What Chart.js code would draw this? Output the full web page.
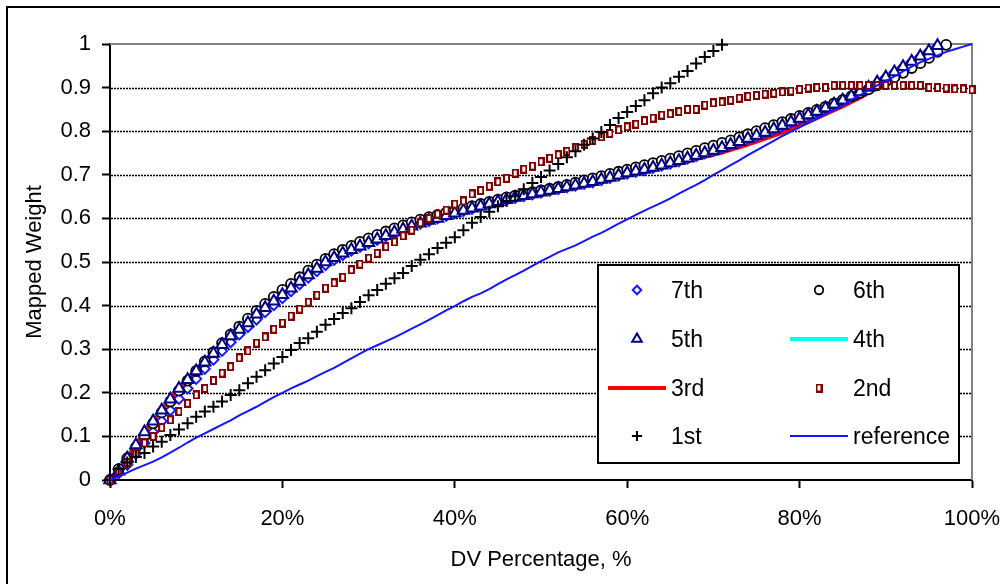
<!DOCTYPE html>
<html>
<head>
<meta charset="utf-8">
<script src="https://cdn.jsdelivr.net/npm/chart.js@4.4.1/dist/chart.umd.min.js"></script>
<style>
  html, body { margin: 0; padding: 0; background: #fff; }
  #wrap { width: 1000px; height: 584px; }
</style>
</head>
<body>
<div id="wrap"><canvas id="chart" width="1000" height="584"></canvas></div>
<script>
// DV percentage (x), one sample per percent
const pct = [0,1,2,3,4,5,6,7,8,9,10,11,12,13,14,15,16,17,18,19,20,21,22,23,24,25,26,27,28,29,30,
  31,32,33,34,35,36,37,38,39,40,41,42,43,44,45,46,47,48,49,50,51,52,53,54,55,56,57,58,59,60,
  61,62,63,64,65,66,67,68,69,70,71,72,73,74,75,76,77,78,79,80,81,82,83,84,85,86,87,88,89,90,
  91,92,93,94,95,96,97,98,99,100];

const xTicks = [0, 20, 40, 60, 80, 100];
const yTicks = [0, 0.1, 0.2, 0.3, 0.4, 0.5, 0.6, 0.7, 0.8, 0.9, 1];

const w7th = [0,0.015,0.035,0.06,0.085,0.11,0.135,0.16,0.186,0.21,0.232,0.255,0.276,0.296,0.316,0.334,
  0.351,0.368,0.385,0.401,0.417,0.433,0.449,0.464,0.479,0.493,0.505,0.516,0.526,0.535,0.543,0.551,0.559,
  0.567,0.574,0.581,0.588,0.594,0.6,0.606,0.612,0.617,0.622,0.627,0.632,0.637,0.642,0.647,0.651,0.655,
  0.659,0.663,0.667,0.671,0.675,0.679,0.683,0.688,0.693,0.698,0.703,0.707,0.711,0.716,0.721,0.726,0.731,
  0.737,0.743,0.749,0.755,0.761,0.768,0.775,0.782,0.789,0.796,0.804,0.812,0.82,0.828,0.836,0.844,0.852,
  0.861,0.87,0.879,0.889,0.899,0.911,0.923,0.935,0.947,0.959,0.971,0.983,0.995];

const w6th = [0,0.025,0.05,0.075,0.1,0.13,0.155,0.18,0.205,0.228,0.25,0.272,0.293,0.314,0.334,0.352,
  0.37,0.388,0.404,0.42,0.436,0.45,0.465,0.48,0.494,0.507,0.518,0.528,0.537,0.546,0.554,0.562,0.57,
  0.577,0.584,0.591,0.597,0.603,0.608,0.613,0.618,0.623,0.628,0.633,0.638,0.643,0.648,0.652,0.656,0.66,
  0.664,0.668,0.672,0.677,0.682,0.687,0.692,0.697,0.702,0.707,0.712,0.717,0.722,0.727,0.732,0.737,0.743,
  0.749,0.755,0.761,0.767,0.773,0.779,0.786,0.793,0.8,0.807,0.814,0.821,0.828,0.835,0.842,0.849,0.856,
  0.864,0.872,0.88,0.888,0.896,0.905,0.914,0.924,0.934,0.945,0.956,0.968,0.982,0.998];

const w5th = [0,0.02,0.05,0.08,0.11,0.135,0.16,0.185,0.21,0.23,0.25,0.27,0.29,0.31,0.33,0.345,0.36,
  0.38,0.395,0.41,0.425,0.44,0.455,0.47,0.485,0.5,0.51,0.52,0.528,0.536,0.544,0.552,0.56,0.568,0.575,
  0.582,0.589,0.595,0.6,0.606,0.612,0.618,0.623,0.628,0.633,0.638,0.643,0.648,0.652,0.656,0.66,0.664,
  0.668,0.672,0.676,0.68,0.684,0.689,0.694,0.699,0.704,0.708,0.712,0.717,0.722,0.727,0.732,0.738,0.744,
  0.75,0.756,0.762,0.769,0.776,0.783,0.79,0.797,0.805,0.813,0.821,0.829,0.837,0.845,0.853,0.862,0.871,
  0.88,0.89,0.9,0.912,0.924,0.936,0.948,0.96,0.972,0.984,0.996];

const w4th = [0,0.025,0.055,0.085,0.114,0.14,0.166,0.19,0.213,0.234,0.255,0.275,0.294,0.313,0.332,0.349,
  0.365,0.382,0.398,0.413,0.428,0.443,0.457,0.471,0.485,0.498,0.509,0.519,0.528,0.537,0.545,0.553,0.561,
  0.569,0.577,0.584,0.591,0.597,0.603,0.609,0.615,0.621,0.627,0.632,0.637,0.642,0.647,0.652,0.656,0.66,
  0.664,0.668,0.672,0.676,0.68,0.684,0.688,0.692,0.696,0.7,0.704,0.708,0.712,0.716,0.72,0.725,0.73,0.735,
  0.741,0.747,0.753,0.759,0.765,0.772,0.779,0.786,0.793,0.8,0.808,0.816,0.824,0.832,0.84,0.849,0.858,
  0.867,0.876,0.886,0.896,0.908,0.92,0.932,0.944,0.956,0.968,0.98,0.992];

const w3rd = [0,0.02,0.05,0.08,0.11,0.135,0.16,0.185,0.21,0.232,0.253,0.273,0.293,0.312,0.331,0.348,
  0.364,0.38,0.396,0.411,0.426,0.441,0.456,0.47,0.484,0.497,0.509,0.52,0.53,0.539,0.548,0.556,0.564,
  0.572,0.58,0.587,0.594,0.601,0.607,0.613,0.619,0.625,0.631,0.637,0.643,0.648,0.653,0.658,0.662,0.666,
  0.67,0.673,0.676,0.679,0.682,0.685,0.688,0.691,0.695,0.699,0.702,0.706,0.71,0.714,0.718,0.722,0.726,
  0.731,0.736,0.741,0.746,0.751,0.757,0.763,0.769,0.776,0.783,0.79,0.797,0.805,0.813,0.821,0.83,0.839,
  0.848,0.857,0.867,0.877,0.888,0.9,0.912,0.925,0.938,0.951,0.964,0.977,0.99];

const w2nd = [0,0.02,0.04,0.06,0.085,0.1,0.12,0.138,0.157,0.176,0.195,0.21,0.228,0.245,0.26,0.28,0.296,
  0.314,0.328,0.346,0.36,0.376,0.392,0.408,0.424,0.44,0.452,0.465,0.482,0.495,0.509,0.52,0.535,0.546,
  0.56,0.573,0.59,0.6,0.61,0.619,0.633,0.64,0.656,0.664,0.674,0.684,0.692,0.704,0.713,0.72,0.73,0.738,
  0.746,0.754,0.762,0.77,0.778,0.787,0.795,0.803,0.81,0.816,0.824,0.83,0.837,0.84,0.845,0.85,0.85,0.86,
  0.865,0.867,0.871,0.876,0.88,0.882,0.885,0.887,0.89,0.892,0.896,0.899,0.9,0.9,0.905,0.905,0.905,0.905,
  0.905,0.905,0.905,0.905,0.905,0.905,0.905,0.9,0.9,0.899,0.897,0.897,0.895];

const w1st = [0,0.025,0.04,0.053,0.062,0.077,0.088,0.103,0.116,0.13,0.145,0.157,0.168,0.18,0.195,0.206,
  0.222,0.237,0.252,0.267,0.282,0.298,0.314,0.325,0.34,0.356,0.369,0.383,0.394,0.408,0.424,0.436,0.45,
  0.463,0.475,0.491,0.505,0.518,0.532,0.544,0.557,0.573,0.59,0.603,0.615,0.628,0.64,0.651,0.667,0.681,
  0.695,0.71,0.725,0.74,0.754,0.769,0.783,0.798,0.814,0.83,0.844,0.858,0.871,0.887,0.9,0.91,0.925,0.938,
  0.955,0.97,0.984,0.998];

const wRef = [0,0.008,0.017,0.026,0.034,0.042,0.052,0.063,0.074,0.086,0.097,0.107,0.117,0.127,0.137,
  0.148,0.158,0.168,0.179,0.19,0.2,0.21,0.219,0.228,0.238,0.248,0.257,0.268,0.279,0.29,0.3,0.309,0.318,
  0.327,0.337,0.347,0.357,0.367,0.378,0.389,0.399,0.41,0.42,0.428,0.438,0.449,0.46,0.47,0.48,0.491,0.502,
  0.512,0.522,0.53,0.538,0.548,0.558,0.567,0.577,0.588,0.598,0.608,0.618,0.627,0.636,0.646,0.657,0.667,
  0.677,0.688,0.7,0.711,0.722,0.733,0.745,0.756,0.767,0.778,0.789,0.799,0.809,0.819,0.829,0.839,0.849,
  0.858,0.872,0.883,0.894,0.905,0.915,0.926,0.937,0.948,0.958,0.966,0.974,0.982,0.988,0.994,1];

const legendOrder = ['7th', '6th', '5th', '4th', '3rd', '2nd', '1st', 'reference'];

const FONT = '"Liberation Sans", Arial, sans-serif';

function pts(values) {
  return values.map((v, i) => ({ x: pct[i], y: v }));
}

// small upright hollow rectangle used by the 2nd series
function rectMarker() {
  const c = document.createElement('canvas');
  c.width = 7; c.height = 9;
  const g = c.getContext('2d');
  g.fillStyle = '#fff';
  g.fillRect(1, 1, 5, 7);
  g.strokeStyle = '#800000';
  g.lineWidth = 2;
  g.strokeRect(1, 1, 5, 7);
  return c;
}

const marker = (label, data, style, color, radius, bw) => ({
  label, data: pts(data), showLine: false, pointStyle: style,
  pointRadius: radius, pointBorderColor: color, pointBackgroundColor: '#fff',
  pointBorderWidth: bw, borderColor: color, backgroundColor: '#fff', clip: false
});
const line = (label, data, color, width) => ({
  label, data: pts(data), borderColor: color, borderWidth: width,
  pointRadius: 0, tension: 0, fill: false, clip: false
});

// first entry is drawn on top
const datasets = [
  line('reference', wRef, '#1515ff', 2),
  marker('1st', w1st, 'cross', '#000', 6, 2),
  marker('2nd', w2nd, rectMarker(), '#800000', 4, 2),
  marker('5th', w5th, 'triangle', '#000080', 6.5, 2),
  marker('6th', w6th, 'circle', '#000', 5, 1.8),
  marker('7th', w7th, 'rectRot', '#1a1aff', 5, 2),
  line('3rd', w3rd, '#ff0000', 4),
  line('4th', w4th, '#00ffff', 4)
];

const framePlugin = {
  id: 'frame',
  beforeDraw(chart) {
    const ctx = chart.ctx;
    ctx.save();
    ctx.strokeStyle = '#000';
    ctx.lineWidth = 2;
    ctx.strokeRect(7, 7, 1100, 700);
    ctx.restore();
  },
  beforeDatasetsDraw(chart) {
    const { ctx, chartArea: a, scales } = chart;
    ctx.save();
    ctx.strokeStyle = '#000';
    ctx.lineWidth = 1.5;
    ctx.setLineDash([2, 1]);
    yTicks.forEach(v => {
      if (v <= 0 || v >= 1) return;
      const y = Math.round(scales.y.getPixelForValue(v)) + 0.5;
      ctx.beginPath();
      ctx.moveTo(a.left + 1, y);
      ctx.lineTo(a.right, y);
      ctx.stroke();
    });
    ctx.setLineDash([]);
    ctx.strokeStyle = '#808080';
    ctx.lineWidth = 2;
    const yTop = scales.y.getPixelForValue(1);
    ctx.beginPath();
    ctx.moveTo(a.left, yTop);
    ctx.lineTo(a.right, yTop);
    ctx.lineTo(a.right, a.bottom);
    ctx.stroke();
    ctx.restore();
  },
  afterDatasetsDraw(chart) {
    const ctx = chart.ctx;
    const box = { x: 598, y: 265, w: 361, h: 198 };
    const symX = [637, 819];
    const textX = [671, 853];
    const rowY = [290, 339, 388, 436];
    ctx.save();
    ctx.fillStyle = '#fff';
    ctx.fillRect(box.x, box.y, box.w, box.h);
    ctx.strokeStyle = '#000';
    ctx.lineWidth = 2;
    ctx.strokeRect(box.x, box.y, box.w, box.h);
    legendOrder.forEach((name, i) => {
      const ds = chart.data.datasets.find(d => d.label === name);
      const col = i % 2, row = Math.floor(i / 2);
      const x = symX[col], y = rowY[row];
      ctx.save();
      if (ds.showLine === false) {
        ctx.strokeStyle = ds.pointBorderColor;
        ctx.fillStyle = '#fff';
        ctx.lineWidth = ds.pointBorderWidth;
        Chart.helpers.drawPoint(ctx, {
          pointStyle: ds.pointStyle, radius: ds.pointRadius * 0.85,
          rotation: 0, borderWidth: ds.pointBorderWidth
        }, x, y);
      } else {
        ctx.strokeStyle = ds.borderColor;
        ctx.lineWidth = ds.borderWidth;
        ctx.beginPath();
        ctx.moveTo(x - 29, y);
        ctx.lineTo(x + 29, y);
        ctx.stroke();
      }
      ctx.restore();
      ctx.fillStyle = '#000';
      ctx.font = '23px ' + FONT;
      ctx.textBaseline = 'middle';
      ctx.textAlign = 'left';
      ctx.fillText(name, textX[col], y + 2);
    });
    ctx.restore();
  }
};

new Chart(document.getElementById('chart'), {
  type: 'line',
  data: { datasets },
  options: {
    responsive: false,
    animation: false,
    layout: { padding: { top: 44, right: 28, left: 0, bottom: 0 } },
    plugins: { legend: { display: false }, tooltip: { enabled: false } },
    scales: {
      x: {
        type: 'linear', min: 0, max: 100,
        afterFit: s => { s.height = 104; s.paddingLeft = 0; s.paddingRight = 0; },
        afterBuildTicks: s => { s.ticks = xTicks.map(v => ({ value: v })); },
        ticks: {
          color: '#000', padding: 18, maxRotation: 0,
          font: { family: FONT, size: 22 },
          callback: v => v + '%'
        },
        grid: { drawOnChartArea: false, tickLength: 8, tickColor: '#000', tickWidth: 2 },
        border: { color: '#000', width: 2 },
        title: {
          display: true, text: 'DV Percentage, %', color: '#000',
          font: { family: FONT, size: 22 }, padding: { top: 0, bottom: 11 }
        }
      },
      y: {
        type: 'linear', min: 0, max: 1,
        afterFit: s => { s.width = 110; s.paddingTop = 0; s.paddingBottom = 0; },
        afterBuildTicks: s => { s.ticks = yTicks.map(v => ({ value: v })); },
        ticks: {
          color: '#000', padding: 11,
          font: { family: FONT, size: 22 },
          callback: v => String(Number(v.toFixed(1)))
        },
        grid: { drawOnChartArea: false, tickLength: 8, tickColor: '#000', tickWidth: 2 },
        border: { color: '#000', width: 2 },
        title: {
          display: true, text: 'Mapped Weight', color: '#000',
          font: { family: FONT, size: 22 }, padding: { top: 22, bottom: 22 }
        }
      }
    }
  },
  plugins: [framePlugin]
});
</script>
</body>
</html>
